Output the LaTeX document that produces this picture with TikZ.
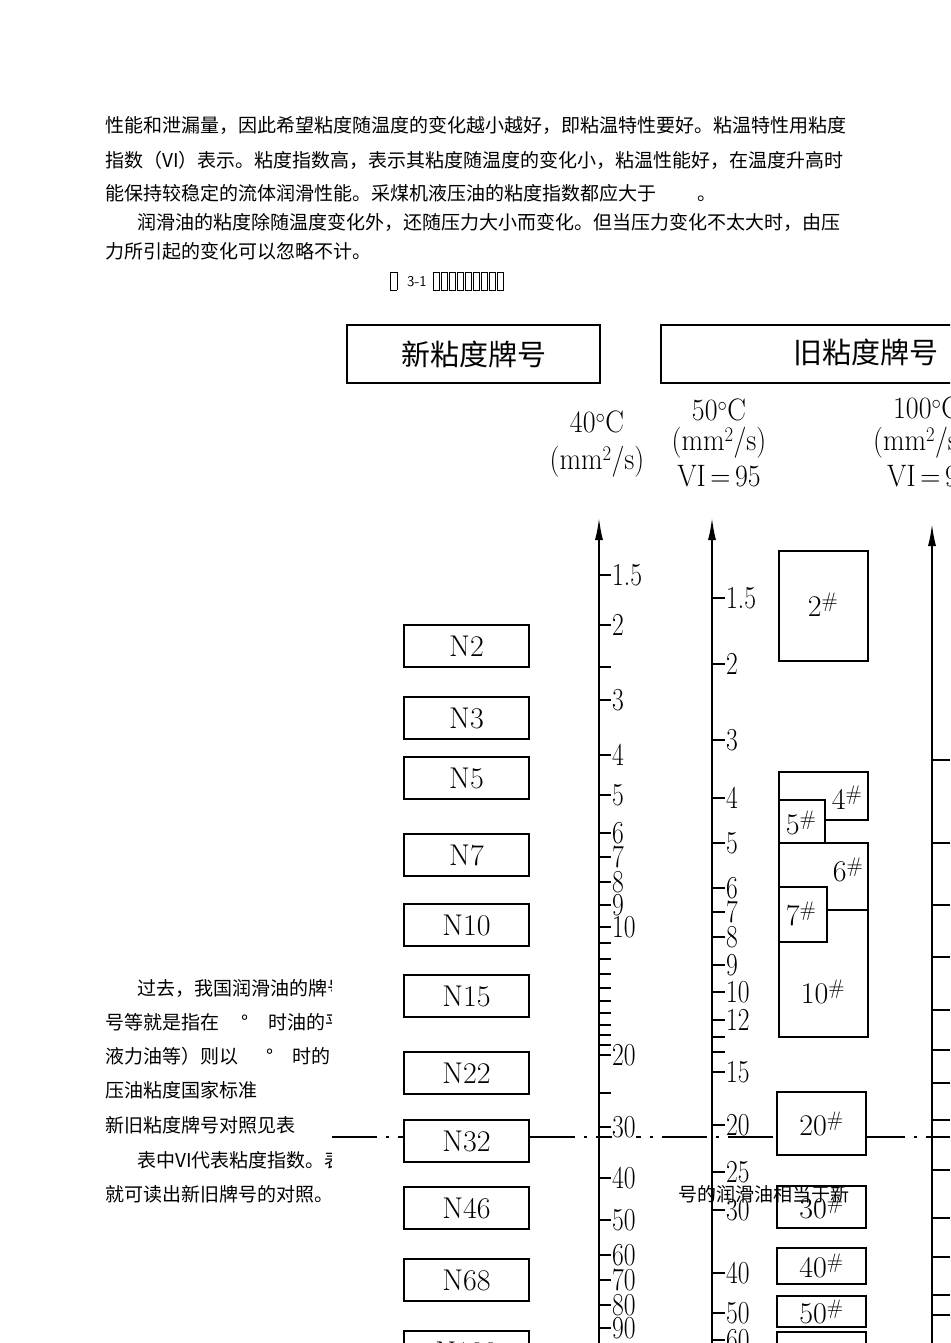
\documentclass[tikz,border=0pt]{standalone}
\usepackage{fontspec}
\usetikzlibrary{arrows.meta}
\newfontfamily\cjk{Noto Sans CJK SC}
\begin{document}
\begin{tikzpicture}[x=1pt,y=-1pt,
  body/.style={anchor=west,inner sep=0pt,font=\cjk\fontsize{19}{20}\selectfont},
  bx/.style={draw,line width=1.8pt},
  lab/.style={anchor=west,inner sep=0pt,font=\fontsize{32}{32}\selectfont,xscale=0.8},
  hd/.style={inner sep=0pt,font=\fontsize{31}{32}\selectfont,xscale=0.9},
  ax/.style={line width=1.6pt,-{Latex[length=22pt,width=8pt]}},
  tk/.style={line width=1.5pt}]
\useasboundingbox (0,0) rectangle (950,1343);
\clip (0,0) rectangle (950,1343);
\fill[white] (0,0) rectangle (950,1343);
% body text
\node[body] (l1) at (105,125) {性能和泄漏量，因此希望粘度随温度的变化越小越好，即粘温特性要好。粘温特性用粘度};
\node[body] (l2) at (105,160) {指数（VI）表示。粘度指数高，表示其粘度随温度的变化小，粘温性能好，在温度升高时};
\node[body] (l3) at (105,193) {能保持较稳定的流体润滑性能。采煤机液压油的粘度指数都应大于\hspace{2.2em}。};
\node[body] (l4) at (137,222) {润滑油的粘度除随温度变化外，还随压力大小而变化。但当压力变化不太大时，由压};
\node[body] (l5) at (105,251) {力所引起的变化可以忽略不计。};
\node[anchor=west,inner sep=0pt,font=\sffamily\fontsize{15}{15}\selectfont] (cap) at (390,281) {\framebox[7pt]{\rule{0pt}{11pt}}\hspace{10pt}3-1\hspace{6pt}\foreach\i in {1,...,9}{\framebox[7pt]{\rule{0pt}{11pt}}\hspace{1pt}}};
\node[body] (m1) at (137,988) {过去，我国润滑油的牌号};
\node[body] (m2) at (105,1022) {号等就是指在\hspace{1.2em}°\hspace{1em}时油的平};
\node[body] (m3) at (105,1056) {液力油等）则以\hspace{1.5em}°\hspace{1em}时的};
\node[body] (m4) at (105,1090) {压油粘度国家标准};
\node[body] (m5) at (105,1125) {新旧粘度牌号对照见表};
\node[body] (m6) at (137,1160) {表中VI代表粘度指数。表};
\node[body] (m7) at (105,1194) {就可读出新旧牌号的对照。};
% figure background
\fill[white] (332,292) rectangle (950,1343);
% dash-dot line
\coordinate (dl) at (332,1137); \coordinate (dr) at (950,1137);
\draw[line width=1.2pt,dash pattern=on 45pt off 9pt on 3pt off 9pt] (dl) -- (dr);
% headers
\node[bx,minimum width=253,minimum height=58,font=\cjk\fontsize{29}{30}\selectfont] (hn) at (473.5,354) {新粘度牌号};
\draw[bx] (661,325) rectangle (960,383);
\node[inner sep=0pt,font=\cjk\fontsize{29}{30}\selectfont] (ho) at (866,352) {旧粘度牌号};
\node[hd] (t40) at (597,422) {40$^\circ$C};
\node[hd] (u40) at (597,462) {(mm$^2$/s)};
\node[hd] (t50) at (719,410) {50$^\circ$C};
\node[hd] (u50) at (719,443) {(mm$^2$/s)};
\node[hd] (v50) at (719,476) {VI\,=\,95};
\node[hd,anchor=west] (t100) at (893,408) {100$^\circ$C};
\node[hd,anchor=west] (u100) at (873,443) {(mm$^2$/s)};
\node[hd,anchor=west] (v100) at (887,476) {VI\,=\,95};
% axes
\coordinate (a1b) at (599,1343); \coordinate (a1t) at (599,518);
\coordinate (a2b) at (712,1343); \coordinate (a2t) at (712,518);
\coordinate (a3b) at (932,1343); \coordinate (a3t) at (932,524);
\draw[ax] (a1b) -- (a1t);
\draw[ax] (a2b) -- (a2t);
\draw[ax] (a3b) -- (a3t);
% axis 1 ticks
\foreach \y/\t in {575/1.5,625/2,700/3,755/4,795/5,833/6,857/7,882/8,905/9,927/10,1055/20,1127/30,1178/40,1220/50,1255/60,1280/70,1305/80,1328/90}
  {\draw[tk] (599,\y) -- (611,\y); \node[lab,fill=white] at (612,\y) {\t};}
\foreach \y in {667,943,959,974,988,1001,1013,1025,1035,1045,1093}
  \draw[tk] (599,\y) -- (611,\y);
% axis 2 ticks
\foreach \y/\t in {598/1.5,664/2,740/3,798/4,843/5,888/6,912/7,937/8,965/9,992/10,1020/12,1072/15,1125/20,1172/25,1210/30,1273/40,1313/50,1340/60}
  {\draw[tk] (712,\y) -- (725,\y); \node[lab] at (726,\y) {\t};}
\foreach \y in {1037,1052}
  \draw[tk] (712,\y) -- (725,\y);
% axis 3 ticks
\foreach \y in {760,843,905,957,1010,1050,1083,1120,1170,1218,1257,1295,1315}
  \draw[tk] (932,\y) -- (950,\y);
% new grade boxes
\foreach \n/\y/\t in {n2/646/N2,n3/718/N3,n5/778/N5,n7/855/N7,n10/925/N10,n15/996/N15,n22/1073/N22,n32/1141/N32,n46/1208/N46,n68/1280/N68,n100/1352/N100}
  \node[bx,fill=white,minimum width=125,minimum height=42,inner sep=0pt,font=\fontsize{30}{30}\selectfont] (\n) at (466.5,\y) {\t};
% old grade boxes
\tikzset{ob/.style={inner sep=0pt,font=\fontsize{30}{30}\selectfont}}
\draw[bx] (779,551) rectangle (868,661);
\node[ob] (o2) at (823,605) {2$^{\#}$};
\draw[bx] (779,800) -- (779,772) -- (868,772) -- (868,820) -- (825,820);
\draw[bx] (779,800) rectangle (825,843);
\node[ob] (o4) at (847,798) {4$^{\#}$};
\node[ob] (o5) at (801,823) {5$^{\#}$};
\draw[bx] (779,887) -- (779,843) -- (868,843) -- (868,910) -- (827,910);
\draw[bx] (779,887) rectangle (827,942);
\draw[bx] (827,910) -- (868,910) -- (868,1037) -- (779,1037) -- (779,942);
\node[ob] (o6) at (848,870) {6$^{\#}$};
\node[ob] (o7) at (801,914) {7$^{\#}$};
\node[ob] (o10) at (823,992) {10$^{\#}$};
\foreach \n/\ya/\yb/\t in {o20/1092/1155/20,o30/1186/1228/30,o40/1248/1284/40,o50/1296/1327/50,o60/1332/1380/60}
  {\draw[bx,fill=white] (777,\ya) rectangle (866,\yb);
   \node[ob] (\n) at (821.5,{(\ya+\yb)/2}) {\t$^{\#}$};}
% overlapping text
\node[body] (m8) at (678,1194) {号的润滑油相当于新};
\end{tikzpicture}
\end{document}
